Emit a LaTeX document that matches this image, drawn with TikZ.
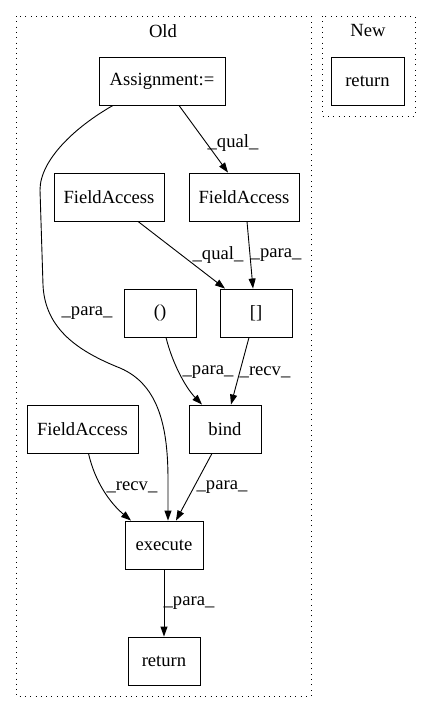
\documentclass[tikz,border=0pt]{standalone}
\usepackage{fontspec}
\setmainfont{Liberation Serif}
\usetikzlibrary{arrows.meta}
\begin{document}
\begin{tikzpicture}[x=1pt,y=-1pt,
  box/.style={draw, line width=0.9pt, inner sep=0pt, font=\fontsize{18.6}{20}\selectfont},
  cluster/.style={draw, line width=1pt, dash pattern=on 1pt off 4.3pt},
  edge/.style={line width=0.9pt, -{Triangle[length=10pt,width=7pt]}},
  lab/.style={font=\fontsize{18.6}{20}\selectfont, inner sep=0pt},
  ttl/.style={font=\fontsize{18.6}{20}\selectfont, inner sep=0pt}]
\useasboundingbox (0,0) rectangle (431,712);
% clusters
\draw[cluster] (16,16) rectangle (311,696);
\draw[cluster] (322,16) rectangle (415,116);
\node[ttl] (old) at (163,31) {Old};
\node[ttl] (new) at (368,31) {New};
% nodes
\node[box, minimum width=73pt, minimum height=48pt] (ret2) at (367.5,81) {return};
\node[box, minimum width=126pt, minimum height=48pt] (asg) at (162,81) {Assignment:=};
\node[box, minimum width=110pt, minimum height=48pt] (fa1) at (109,197) {FieldAccess};
\node[box, minimum width=110pt, minimum height=48pt] (fa2) at (244,197) {FieldAccess};
\node[box, minimum width=72pt, minimum height=48pt] (par) at (160,313) {()};
\node[box, minimum width=72pt, minimum height=48pt] (idx) at (256,313) {[]};
\node[box, minimum width=111pt, minimum height=48pt] (fa3) at (82.5,429) {FieldAccess};
\node[box, minimum width=72pt, minimum height=48pt] (bind) at (225,429) {bind};
\node[box, minimum width=78pt, minimum height=48pt] (exe) at (164,545) {execute};
\node[box, minimum width=72pt, minimum height=48pt] (ret) at (164,661) {return};
% edges
\draw[edge] ([xshift=17pt]asg.south) -- ([xshift=-16pt]fa2.north);
\node[lab] (l1) at (233,143) {\_qual\_};
\draw[edge] ([xshift=-49pt]asg.south) .. controls (75,127) and (40,160) .. (40,190)
  -- (43,285) .. controls (45,330) and (80,352) .. (120,368)
  .. controls (160,385) and (168,430) .. (168,480) -- ([xshift=4pt]exe.north);
\node[lab] (l2) at (87,313) {\_para\_};
\draw[edge] ([xshift=29pt]fa1.south) -- ([xshift=-31pt]idx.north);
\node[lab] (l3) at (218,255) {\_qual\_};
\draw[edge] ([xshift=3pt]fa2.south) -- ([xshift=-3pt]idx.north);
\node[lab] (l4) at (276,255) {\_para\_};
\draw[edge] ([xshift=6pt]par.south) .. controls (172,362) and (185,387) .. ([xshift=-23pt]bind.north);
\node[lab] (l5) at (208,372) {\_para\_};
\draw[edge] ([xshift=-7pt]idx.south) -- ([xshift=6pt]bind.north);
\node[lab] (l6) at (265,372) {\_recv\_};
\draw[edge] ([xshift=6pt]fa3.south) .. controls (95,482) and (110,503) .. ([xshift=-33pt]exe.north);
\node[lab] (l7) at (132,487) {\_recv\_};
\draw[edge] ([xshift=-13pt]bind.south) -- ([xshift=12pt]exe.north);
\node[lab] (l8) at (222,487) {\_para\_};
\draw[edge] (exe.south) -- (ret.north);
\node[lab] (l9) at (189,603) {\_para\_};
\end{tikzpicture}
\end{document}
